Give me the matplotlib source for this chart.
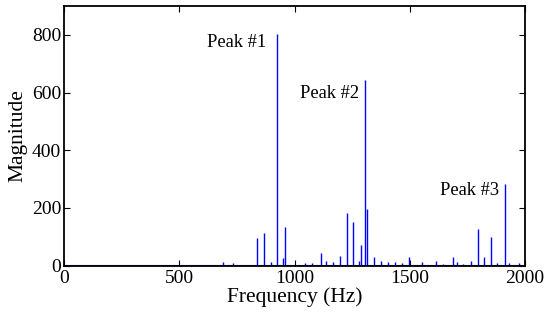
import matplotlib
matplotlib.use("Agg")
import matplotlib.pyplot as plt

# Spectral line frequencies (Hz) and magnitudes
freqs = [543, 658, 690, 734, 839, 868, 898, 924, 951, 959, 1047, 1077, 1113, 1136,
         1167, 1196, 1226, 1255, 1278, 1287, 1304, 1316, 1346, 1375, 1407, 1436,
         1465, 1495, 1555, 1614, 1643, 1687, 1704, 1733, 1765, 1795, 1824, 1854,
         1880, 1913, 1931, 1974]
mags = [3, 2, 11, 8, 95, 113, 11, 803, 28, 135, 10, 8, 45, 17,
        11, 35, 183, 152, 16, 73, 643, 196, 31, 17, 11, 11,
        8, 31, 14, 17, 5, 31, 14, 6, 17, 128, 31, 100,
        8, 283, 10, 10]

freq_range = [0, 2000]
mag_range = [0, 900]
xticks = [0, 500, 1000, 1500, 2000]
yticks = [0, 200, 400, 600, 800]

annotations = [("Peak #1", 876, 773), ("Peak #2", 1280, 598), ("Peak #3", 1887, 260)]

plt.rcParams['font.family'] = ['Liberation Serif', 'DejaVu Serif']

fig = plt.figure(figsize=(5.57, 3.2), dpi=100)
ax = fig.add_axes([0.115, 0.170, 0.8275, 0.811])

ax.vlines(freqs, 0, mags, colors='#0000ff', linewidth=1.0)
ax.plot(freq_range, [0, 0], color='#0000ff', linewidth=1.5)

ax.set_xlim(freq_range)
ax.set_ylim(mag_range)
ax.set_xticks(xticks)
ax.set_yticks(yticks)
ax.tick_params(direction='in', top=True, right=True, labelsize=14, length=4, width=0.8)
ax.tick_params(axis='y', pad=2)
ax.tick_params(axis='x', pad=3)
for s in ax.spines.values():
    s.set_linewidth(1.3)

for label, x, y in annotations:
    ax.text(x, y, label, ha='right', va='center', fontsize=13.3)

ax.set_xlabel("Frequency (Hz)", fontsize=15.5, labelpad=0)
ax.set_ylabel("Magnitude", fontsize=15.5, labelpad=3)

fig.savefig("out.png", dpi=100)
